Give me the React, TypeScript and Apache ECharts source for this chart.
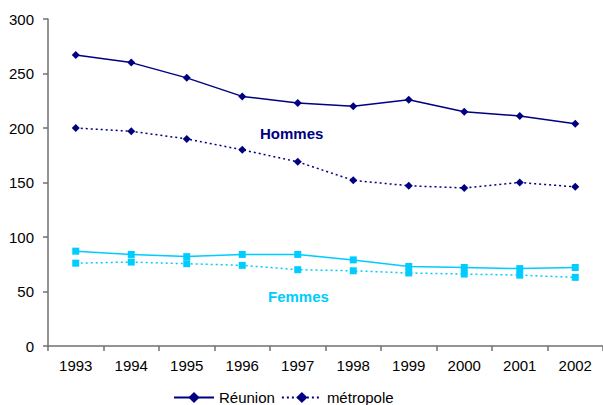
import React, { useEffect, useRef } from "react";
import * as echarts from "echarts";

const years = ["1993", "1994", "1995", "1996", "1997", "1998", "1999", "2000", "2001", "2002"];
const hommesReunion = [267, 260, 246, 229, 223, 220, 226, 215, 211, 204];
const hommesMetropole = [200, 197, 190, 180, 169, 152, 147, 145, 150, 146];
const femmesReunion = [87, 84, 82, 84, 84, 79, 73, 72, 71, 72];
const femmesMetropole = [76, 77, 75.5, 74, 70, 69, 67, 66, 65, 63];

const NAVY = "#000080";
const CYAN = "#00CCFF";
const FONT = "'Liberation Sans', Arial, sans-serif";

export default function App() {
  const ref = useRef<HTMLDivElement>(null);
  useEffect(() => {
    if (!ref.current) return;
    const chart = echarts.init(ref.current, undefined, { renderer: "svg" });
    chart.setOption({
      animation: false,
      backgroundColor: "#ffffff",
      textStyle: { fontFamily: FONT },
      grid: { left: 48, top: 19, width: 557, height: 327, containLabel: false },
      xAxis: {
        type: "category",
        data: years,
        boundaryGap: true,
        axisLine: { lineStyle: { color: "#707070", width: 1.5 } },
        axisTick: { show: true, length: 5, inside: false, lineStyle: { color: "#707070", width: 1.5 } },
        axisLabel: { color: "#000", fontSize: 15, fontFamily: FONT, margin: 12 },
        splitLine: { show: false },
      },
      yAxis: {
        type: "value",
        min: 0,
        max: 300,
        interval: 50,
        axisLine: { show: true, lineStyle: { color: "#707070", width: 1.5 } },
        axisTick: { show: true, length: 5, lineStyle: { color: "#707070", width: 1.5 } },
        axisLabel: { color: "#000", fontSize: 15, fontFamily: FONT, margin: 14 },
        splitLine: { show: false },
      },
      legend: {
        data: ["Réunion", "métropole"],
        left: 168,
        top: 385,
        itemWidth: 40,
        itemHeight: 14,
        itemGap: 6,
        textStyle: { color: "#000", fontSize: 15, fontFamily: FONT },
      },
      graphic: [
        {
          type: "text",
          left: 260,
          top: 126,
          style: { text: "Hommes", fill: NAVY, font: `bold 15px ${FONT}` },
        },
        {
          type: "text",
          left: 268,
          top: 289,
          style: { text: "Femmes", fill: CYAN, font: `bold 15px ${FONT}` },
        },
      ],
      series: [
        {
          name: "Réunion",
          type: "line",
          data: hommesReunion,
          symbol: "diamond",
          symbolSize: 8,
          itemStyle: { color: NAVY },
          lineStyle: { color: NAVY, width: 1.5 },
        },
        {
          name: "métropole",
          type: "line",
          data: hommesMetropole,
          symbol: "diamond",
          symbolSize: 8,
          itemStyle: { color: NAVY },
          lineStyle: { color: NAVY, width: 1.5, type: [2, 3] },
        },
        {
          name: "Réunion F",
          type: "line",
          data: femmesReunion,
          symbol: "rect",
          symbolSize: 7,
          itemStyle: { color: CYAN },
          lineStyle: { color: CYAN, width: 1.5 },
        },
        {
          name: "métropole F",
          type: "line",
          data: femmesMetropole,
          symbol: "rect",
          symbolSize: 7,
          itemStyle: { color: CYAN },
          lineStyle: { color: CYAN, width: 1.5, type: [2, 3] },
        },
      ],
    });
    return () => chart.dispose();
  }, []);
  return (
    <div
      ref={ref}
      style={{ position: "fixed", left: 0, top: 0, width: 603, height: 405 }}
    />
  );
}
